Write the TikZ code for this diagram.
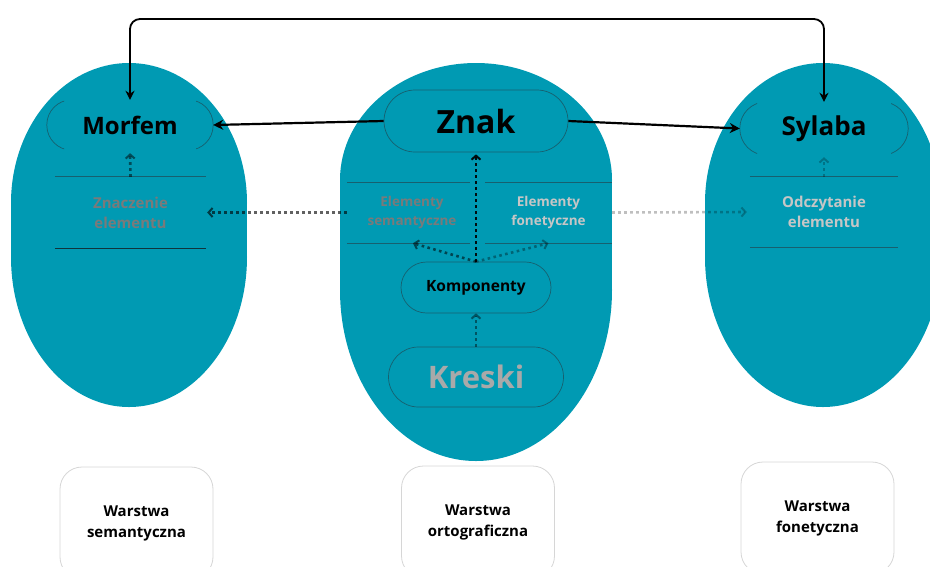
\documentclass[tikz,border=0pt]{standalone}
\usepackage{fontspec}
\setmainfont{Open Sans}
\usetikzlibrary{arrows.meta,calc}

\definecolor{blob}{HTML}{009AB3}
\definecolor{rim}{HTML}{17606F}
\definecolor{rimdark}{HTML}{10343C}
\definecolor{cardrim}{HTML}{D6D6D6}
\definecolor{midgrey}{HTML}{7A7A7A}
\definecolor{palegrey}{HTML}{C6C6C6}
\definecolor{strokegrey}{HTML}{A9A9A9}

\newcommand{\fs}[1]{\fontsize{#1}{#1}\selectfont}

\begin{document}
\begin{tikzpicture}[x=1pt,y=-1pt,
  txt/.style={font=\bfseries, align=center, inner sep=0pt},
  pill/.style={txt, draw=rim, line width=0.7pt, rounded corners=#1},
  card/.style={txt, draw=cardrim, fill=white, line width=0.8pt, rounded corners=22pt,
    minimum width=153pt, minimum height=112pt, font=\bfseries\fontsize{15}{21}\selectfont},
  link/.style={line width=2.2pt, -{Stealth[length=10pt,width=10pt]}},
  dots/.style={line width=2.6pt, dash pattern=on 2.6pt off 3.4pt, draw opacity=#1,
    -{Straight Barb[length=4pt,width=9pt,line width=2pt]}},
  sep/.style={rim, line width=0.8pt}]

\useasboundingbox (0,0) rectangle (930,566);
\clip (0,0) rectangle (930,566);

% three teal capsules: a straight middle with an elliptic cap above and below
\fill[blob] (11,203) rectangle (247,257);
\fill[blob] (129,203) ellipse [x radius=118, y radius=140];
\fill[blob] (129,257) ellipse [x radius=118, y radius=150];
\fill[blob] (340,180) rectangle (612,290);
\fill[blob] (476,180) ellipse [x radius=136, y radius=117];
\fill[blob] (476,290) ellipse [x radius=136, y radius=171];
\fill[blob] (705,203) rectangle (941,257);
\fill[blob] (823,203) ellipse [x radius=118, y radius=140];
\fill[blob] (823,257) ellipse [x radius=118, y radius=150];

% semantic column
\node[txt, minimum width=166pt, minimum height=50pt, font=\bfseries\fs{24}] (morfem) at (130,125) {Morfem};
\begin{scope}
  \clip (40,95) rectangle (64,155) (196,95) rectangle (220,155);
  \draw[rim, line width=0.7pt, rounded corners=25pt] (morfem.north west) rectangle (morfem.south east);
\end{scope}
\node[txt, minimum width=151pt, minimum height=71pt, text=midgrey, font=\bfseries\fontsize{15}{20}\selectfont] (zn) at (130.5,212.5) {Znaczenie\\elementu};
\draw[sep] (zn.north west) -- (zn.north east);
\draw[rimdark, line width=0.9pt] (zn.south west) -- (zn.south east);

% orthographic column
\node[pill=31pt, minimum width=184pt, minimum height=62pt, font=\bfseries\fs{32}] (znak) at (476,121) {Znak};
\node[txt, minimum width=130pt, minimum height=61pt, text=midgrey, font=\bfseries\fontsize{13.5}{19}\selectfont] (es) at (412,212.5) {Elementy\\semantyczne};
\node[txt, minimum width=127pt, minimum height=61pt, text=palegrey, font=\bfseries\fontsize{13.5}{19}\selectfont] (ef) at (548.5,212.5) {Elementy\\fonetyczne};
\draw[sep, line width=0.6pt] (es.north west) -- ($(es.north east)+(-7,0)$)
  (es.south west) -- ($(es.south east)+(-7,0)$);
\draw[sep, line width=0.6pt] (ef.north west) -- (ef.north east) (ef.south west) -- (ef.south east);
\node[pill=25.5pt, minimum width=150pt, minimum height=51pt, font=\bfseries\fs{15.5}] (kom) at (476,287.5) {Komponenty};
\node[pill=30pt, minimum width=175pt, minimum height=60pt, text=strokegrey, font=\bfseries\fs{31}] (kreski) at (476,377) {Kreski};

% phonetic column
\node[txt, minimum width=168pt, minimum height=53pt, font=\bfseries\fs{26}] (sylaba) at (824,128.5) {Sylaba};
\begin{scope}
  \clip (735,97) rectangle (757,160) (891,97) rectangle (913,160);
  \draw[rim, line width=0.7pt, rounded corners=26.5pt] (sylaba.north west) rectangle (sylaba.south east);
\end{scope}
\node[txt, minimum width=148pt, minimum height=70pt, text=palegrey, font=\bfseries\fontsize{15}{20}\selectfont] (od) at (824,212) {Odczytanie\\elementu};
\draw[sep] (od.north west) -- (od.north east) (od.south west) -- (od.south east);

% layer cards
\node[card] (w1) at (136.5,523) {Warstwa\\semantyczna};
\node[card] (w2) at (478,522) {Warstwa\\ortograficzna};
\node[card] (w3) at (817.5,518) {Warstwa\\fonetyczna};

% solid links
\draw[link] (znak.west) -- (morfem.east);
\draw[link] (znak.east) -- (sylaba.west);
\draw[line width=1.8pt, rounded corners=10pt,
  {Stealth[length=9pt,width=9pt]}-{Stealth[length=9pt,width=9pt]}]
  (morfem.north) -- (morfem.north |- 0,19) -- (sylaba.north |- 0,19) -- (sylaba.north);

% dotted links
\draw[dots=0.5, shorten >=3pt] (zn.north) -- (morfem.south);
\draw[dots=0.92, shorten >=2pt] (kom.north) -- (znak.south);
\draw[dots=0.55] (kom.north) -- ($(es.south)+(1,0)$);
\draw[dots=0.35] (kom.north) -- (ef.south);
\draw[dots=0.62, shorten >=1pt] (es.west) -- (zn.east);
\draw[dots=0.25, shorten >=3pt] (ef.east) -- (od.west);
\draw[dots=0.45] (kreski.north) -- (kom.south);
\draw[dots=0.25, shorten >=2pt] (od.north) -- (sylaba.south);

\end{tikzpicture}
\end{document}
